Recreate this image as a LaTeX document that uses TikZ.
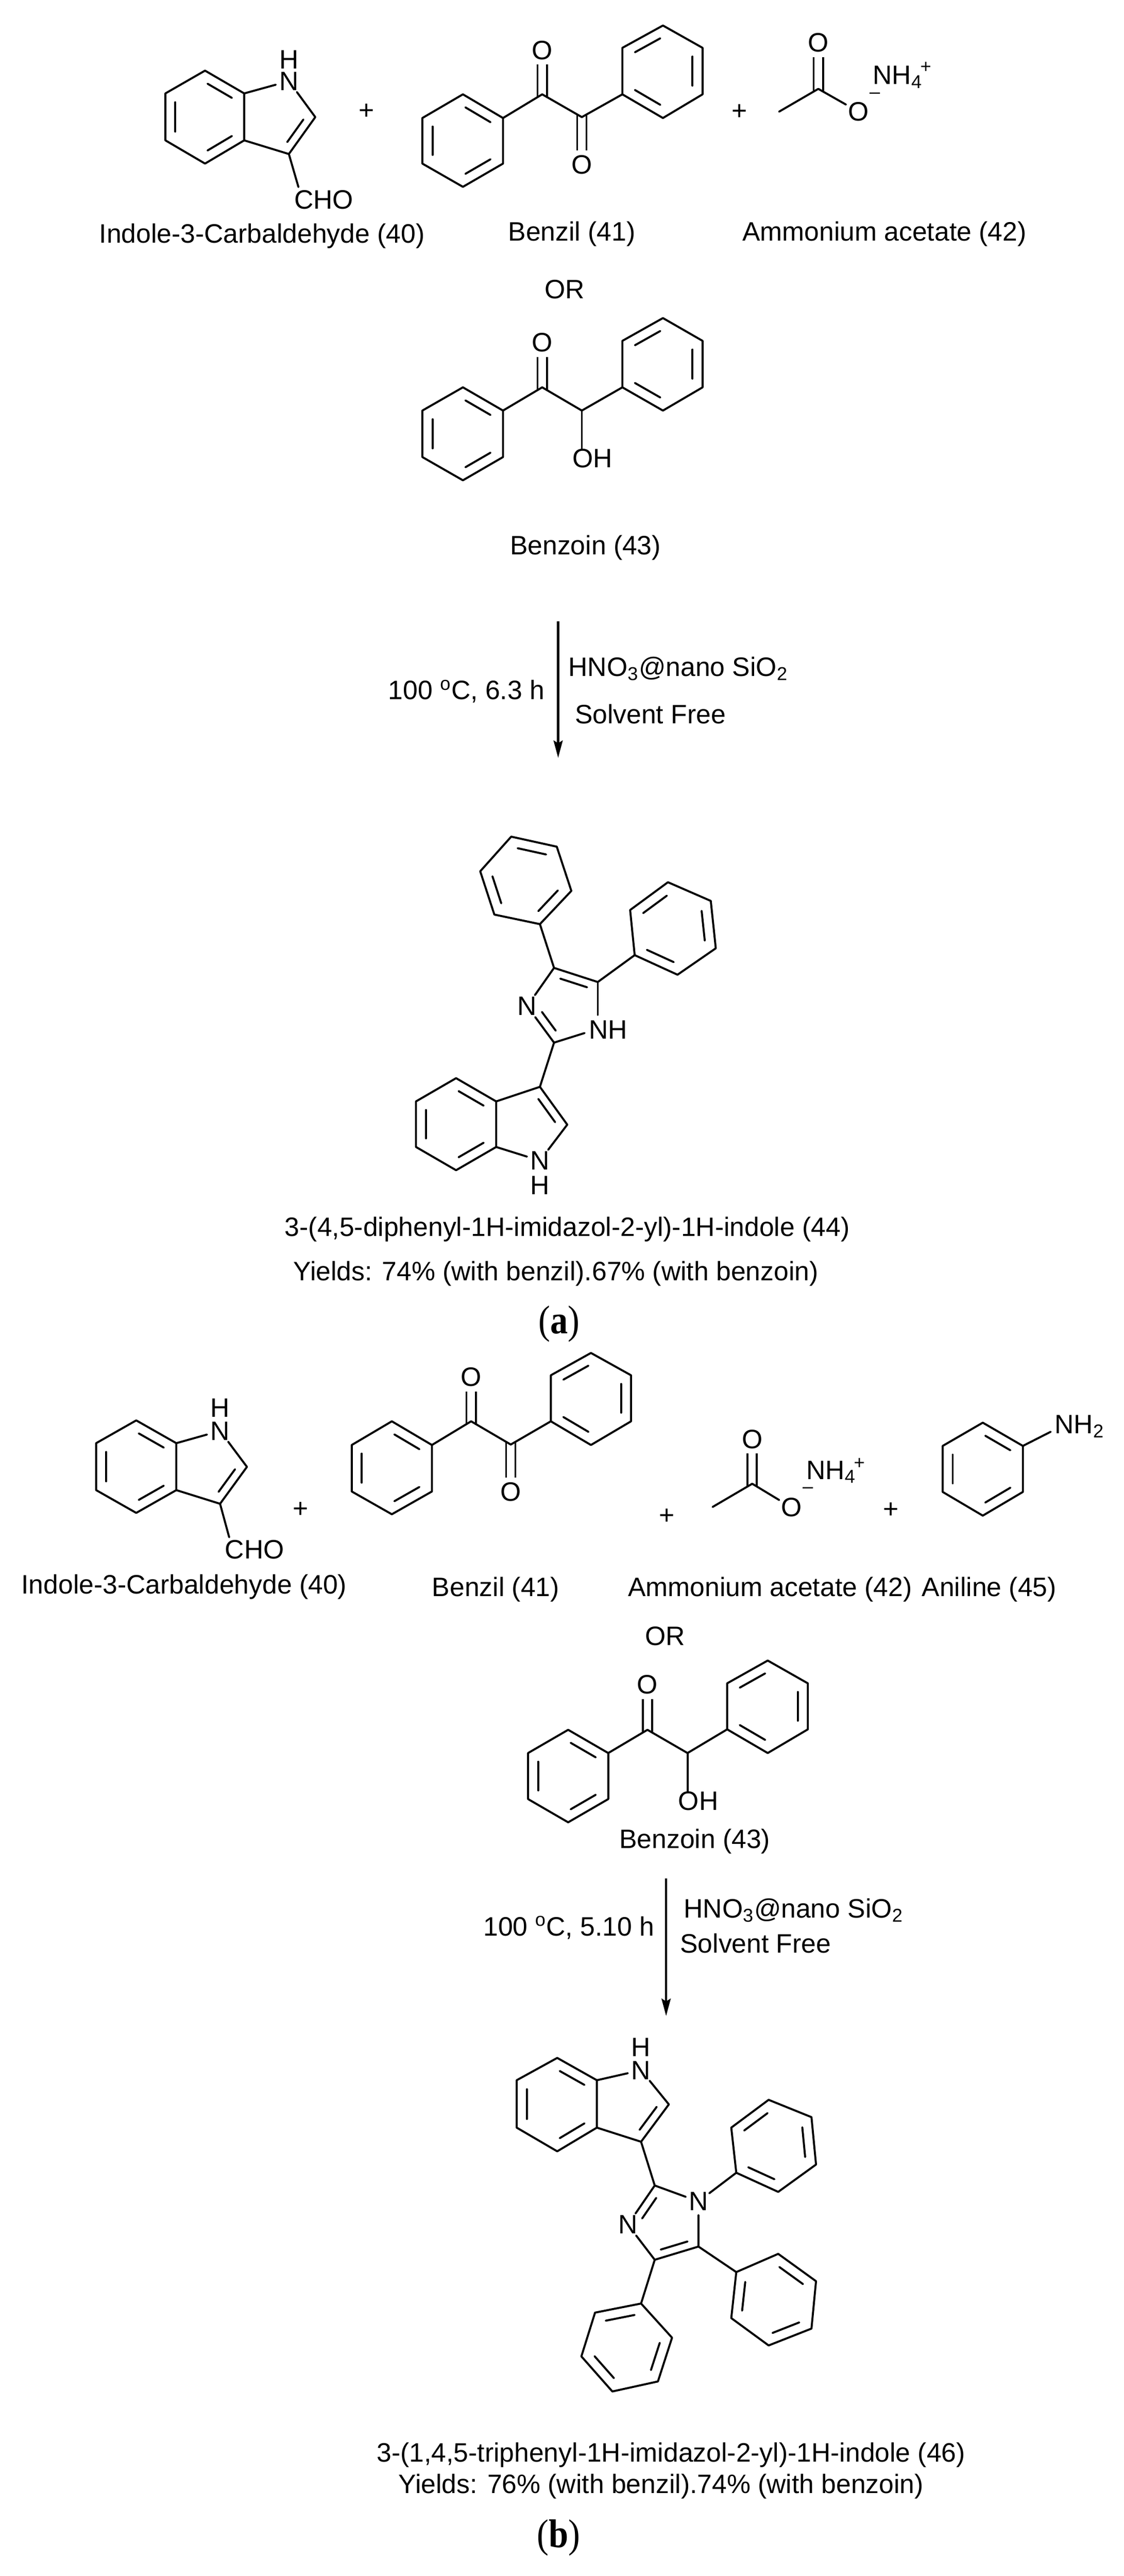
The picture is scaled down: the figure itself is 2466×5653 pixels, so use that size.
\documentclass[tikz,border=0pt]{standalone}
\usepackage{fontspec}
\usepackage{graphicx}
\setmainfont{Liberation Sans}
\newfontfamily\capfont{Liberation Serif}
\usetikzlibrary{calc,arrows.meta}
\tikzset{
  bond/.style={line width=1.1pt,line cap=round,line join=round},
  inb/.style={bond,shorten <=1.6pt,shorten >=1.6pt},
  cob/.style={line width=1.1pt,double,double distance=4pt},
  atom/.style={circle,inner sep=0pt,minimum size=14.5pt,font=\fontsize{14.6}{17}\selectfont},
  txt/.style={inner sep=0pt,font=\fontsize{14.6}{17}\selectfont},
  small/.style={inner sep=0pt,font=\fontsize{10.3}{12}\selectfont},
  rxn/.style={line width=1.2pt,-{Stealth[length=9.5pt,width=5pt,inset=1.5pt]}},
  panel/.style={inner sep=0pt,anchor=base,font=\capfont\fontsize{22}{26}\selectfont}
}
\newcommand\benz[7]{%
  \coordinate (#1a) at (#2);\coordinate (#1b) at (#3);\coordinate (#1c) at (#4);
  \coordinate (#1d) at (#5);\coordinate (#1e) at (#6);\coordinate (#1f) at (#7);
  \coordinate (#1o) at ($(#1a)!.5!(#1d)$);
  \draw[bond] (#1a)--(#1b)--(#1c)--(#1d)--(#1e)--(#1f)--cycle;
  \draw[inb] ($(#1o)!.75!(#1a)$)--($(#1o)!.75!(#1b)$);
  \draw[inb] ($(#1o)!.75!(#1c)$)--($(#1o)!.75!(#1d)$);
  \draw[inb] ($(#1o)!.75!(#1e)$)--($(#1o)!.75!(#1f)$);
}
\newcommand\dbin[4][]{\draw[inb,#1] ($(#4)!.74!(#2)$)--($(#4)!.74!(#3)$);}
\begin{document}
\begin{tikzpicture}[x=.25pt,y=-.25pt]
\useasboundingbox (0,0) rectangle (2466,5653);

% ---------- panel a: indole-3-carbaldehyde
\benz{ia}{450,155}{536,205}{536,308}{450,359}{363,308}{363,205}
\node[atom] (iaN) at (634,178) {N};
\node[txt] (iaH) at (634,131) {H};
\coordinate (iaC2) at (692,257);
\coordinate (iaC3) at (634,338);
\node[txt,anchor=base west] (iaCHO) at (645,458) {CHO};
\draw[bond] (iab)--(iaN)--(iaC2)--(iaC3)--(iac);
\dbin{iaC2}{iaC3}{606,257}
\draw[bond] (iaC3)--([shift={(2.5pt,1.5pt)}]iaCHO.north west);
\node[txt] (pa1) at (805,245) {+};

% benzil
\coordinate (bzC1) at (1190,207);
\coordinate (bzC2) at (1277,257);
\node[atom] (bzO1) at (1190,110) {O};
\node[atom] (bzO2) at (1277,361) {O};
\draw[cob] ([yshift=-1.6pt]bzC1)--(bzO1);
\draw[cob] ([yshift=1.6pt]bzC2)--(bzO2);
\benz{bl}{1016,207}{1104,259}{1104,359}{1016,410}{927,359}{927,259}
\benz{br}{1542,105}{1542,207}{1455,259}{1366,207}{1366,105}{1455,56}
\draw[bond] (blb)--(bzC1)--(bzC2)--(brd);
\node[txt] (pa2) at (1623,246) {+};

% ammonium acetate
\coordinate (acMe) at (1710,245);
\coordinate (acC) at (1796,195);
\node[atom] (acO1) at (1796,94) {O};
\node[atom] (acO2) at (1884,245) {O};
\draw[cob] ([yshift=-1.6pt]acC)--(acO1);
\draw[bond] (acMe)--(acC)--(acO2);
\node[small] (acM) at (1920,210) {–};
\node[txt,anchor=base west] (acN) at (1915,185) {NH\textsubscript{4}};
\node[small] (acP) at (2032,148) {+};

\node[txt,anchor=base] (la1) at (575,533) {Indole-3-Carbaldehyde (40)};
\node[txt,anchor=base] (la2) at (1255,528) {Benzil (41)};
\node[txt,anchor=base] (la3) at (1941,528) {Ammonium acetate (42)};
\node[txt,anchor=base] (la4) at (1239,655) {OR};

% benzoin
\coordinate (bnC1) at (1190,850);
\coordinate (bnC2) at (1277,901);
\node[atom] (bnO) at (1190,752) {O};
\draw[cob] ([yshift=-1.6pt]bnC1)--(bnO);
\benz{nl}{1016,850}{1104,901}{1104,1003}{1016,1054}{927,1003}{927,901}
\benz{nr}{1542,748}{1542,850}{1455,901}{1366,850}{1366,748}{1455,698}
\node[txt,anchor=base west] (bnOH) at (1256,1026) {OH};
\draw[bond] (nlb)--(bnC1)--(bnC2)--(nrd);
\draw[bond] (bnC2)--(bnC2|-bnOH.north);
\node[txt,anchor=base] (la5) at (1285,1217) {Benzoin (43)};

% arrow a
\coordinate (raS) at (1225,1363);
\coordinate (raE) at (1225,1663);
\draw[rxn] (raS)--(raE);
\node[txt,anchor=base west] (ca1) at (1247,1484) {HNO\textsubscript{3}@nano SiO\textsubscript{2}};
\node[txt,anchor=base west] (ca2) at (1261,1588) {Solvent Free};
\node[txt,anchor=base east] (ca3) at (1196,1535) {100 \textsuperscript{o}C, 6.3 h};

% product 44
\benz{pa}{1122,1836}{1222,1858}{1254,1955}{1185,2028}{1085,2007}{1054,1912}
\benz{pb}{1383,1997}{1466,1936}{1560,1977}{1571,2081}{1487,2139}{1393,2096}
\coordinate (imC4) at (1216,2124);
\coordinate (imC5) at (1312,2155);
\coordinate (imC2) at (1216,2288);
\node[atom] (imN3) at (1157,2208) {N};
\node[txt,anchor=base west] (imNH) at (1292,2280) {NH};
\draw[bond] (pad)--(imC4)--(imC5)--(pbf);
\draw[bond] (imC5)--(1312,2227);
\draw[bond] (imC2)--(1283,2267);
\draw[bond] (imC2)--(imN3)--(imC4);
\dbin{imC4}{imC5}{1245,2207}
\dbin[shorten <=4pt]{imN3}{imC2}{1245,2207}
\benz{pi}{1001,2366}{1089,2417}{1089,2517}{1001,2568}{913,2517}{913,2417}
\coordinate (piC3) at (1185,2385);
\coordinate (piC2) at (1245,2468);
\node[atom] (piN) at (1185,2547) {N};
\node[txt] (piH) at (1185,2601) {H};
\draw[bond] (imC2)--(piC3)--(piC2)--(piN)--(pic);
\draw[bond] (piC3)--(pib);
\dbin{piC3}{piC2}{1157,2467}
\node[txt,anchor=base] (la6) at (1245,2713) {3-(4,5-diphenyl-1H-imidazol-2-yl)-1H-indole (44)};
\node[txt,anchor=base] (la7) at (1220,2810) {Yields: 74\% (with benzil).67\% (with benzoin)};
\node[panel] (capa) at (1227,2927) {\scalebox{.88}[1]{(\textbf{a})}};

% ---------- panel b: indole-3-carbaldehyde
\benz{ib}{299,3117}{387,3167}{387,3270}{299,3320}{211,3270}{211,3167}
\node[atom] (ibN) at (483,3140) {N};
\node[txt] (ibH) at (483,3090) {H};
\coordinate (ibC2) at (542,3219);
\coordinate (ibC3) at (483,3300);
\node[txt,anchor=base west] (ibCHO) at (493,3421) {CHO};
\draw[bond] (ibb)--(ibN)--(ibC2)--(ibC3)--(ibc);
\dbin{ibC2}{ibC3}{456,3219}
\draw[bond] (ibC3)--([shift={(2.5pt,1.5pt)}]ibCHO.north west);
\node[txt] (pb1) at (660,3313) {+};

% benzil b
\coordinate (czC1) at (1034,3119);
\coordinate (czC2) at (1121,3170);
\node[atom] (czO1) at (1034,3022) {O};
\node[atom] (czO2) at (1121,3274) {O};
\draw[cob] ([yshift=-1.6pt]czC1)--(czO1);
\draw[cob] ([yshift=1.6pt]czC2)--(czO2);
\benz{cl}{860,3119}{948,3171}{948,3273}{860,3323}{772,3273}{772,3171}
\benz{cr}{1385,3018}{1385,3119}{1297,3171}{1209,3119}{1209,3018}{1297,2969}
\draw[bond] (clb)--(czC1)--(czC2)--(crd);
\node[txt] (pb2) at (1464,3328) {+};

% ammonium acetate b
\coordinate (adMe) at (1564,3307);
\coordinate (adC) at (1651,3256);
\node[atom] (adO1) at (1651,3158) {O};
\node[atom] (adO2) at (1737,3308) {O};
\draw[cob] ([yshift=-1.6pt]adC)--(adO1);
\draw[bond] (adMe)--(adC)--(adO2);
\node[small] (adM) at (1773,3270) {–};
\node[txt,anchor=base west] (adN) at (1769,3246) {NH\textsubscript{4}};
\node[small] (adP) at (1886,3212) {+};
\node[txt] (pb3) at (1956,3314) {+};

% aniline
\benz{an}{2157,3122}{2245,3173}{2245,3274}{2157,3326}{2069,3274}{2069,3173}
\node[txt,anchor=base west] (anN) at (2314,3146) {NH\textsubscript{2}};
\draw[bond] (anb)--([shift={(-2pt,1pt)}]anN.base west);

\node[txt,anchor=base] (lb1) at (404,3497) {Indole-3-Carbaldehyde (40)};
\node[txt,anchor=base] (lb2) at (1088,3503) {Benzil (41)};
\node[txt,anchor=base] (lb3) at (1690,3503) {Ammonium acetate (42)};
\node[txt,anchor=base] (lb4) at (2171,3503) {Aniline (45)};
\node[txt,anchor=base] (lb5) at (1460,3611) {OR};

% benzoin b
\coordinate (cnC1) at (1421,3796);
\coordinate (cnC2) at (1509,3847);
\node[atom] (cnO) at (1421,3697) {O};
\draw[cob] ([yshift=-1.6pt]cnC1)--(cnO);
\benz{ml}{1247,3796}{1335,3847}{1335,3948}{1247,3999}{1159,3948}{1159,3847}
\benz{mr}{1773,3694}{1773,3795}{1685,3847}{1596,3795}{1596,3694}{1685,3644}
\node[txt,anchor=base west] (cnOH) at (1488,3972) {OH};
\draw[bond] (mlb)--(cnC1)--(cnC2)--(mrd);
\draw[bond] (cnC2)--(cnC2|-cnOH.north);
\node[txt,anchor=base] (lb6) at (1525,4056) {Benzoin (43)};

% arrow b
\coordinate (rbS) at (1462,4122);
\coordinate (rbE) at (1462,4424);
\draw[rxn] (rbS)--(rbE);
\node[txt,anchor=base west] (cb1) at (1500,4209) {HNO\textsubscript{3}@nano SiO\textsubscript{2}};
\node[txt,anchor=base west] (cb2) at (1492,4286) {Solvent Free};
\node[txt,anchor=base east] (cb3) at (1437,4248) {100 \textsuperscript{o}C, 5.10 h};

% product 46
\benz{qi}{1223,4516}{1310,4565}{1310,4669}{1223,4721}{1134,4669}{1134,4565}
\node[atom] (qiN) at (1407,4543) {N};
\node[txt] (qiH) at (1407,4493) {H};
\coordinate (qiC2) at (1468,4618);
\coordinate (qiC3) at (1407,4700);
\draw[bond] (qib)--(qiN)--(qiC2)--(qiC3)--(qic);
\dbin{qiC2}{qiC3}{1380,4619}
\coordinate (jmC2) at (1437,4796);
\coordinate (jmC5) at (1533,4930);
\coordinate (jmC4) at (1437,4959);
\node[atom] (jmN1) at (1533,4831) {N};
\node[atom] (jmN3) at (1378,4882) {N};
\draw[bond] (qiC3)--(jmC2)--(jmN1)--(jmC5)--(jmC4)--(jmN3)--(jmC2);
\dbin{jmC5}{jmC4}{1464,4880}
\dbin[shorten <=4pt]{jmN3}{jmC2}{1464,4880}
\benz{qa}{1605,4669}{1687,4608}{1781,4646}{1791,4750}{1708,4810}{1616,4768}
\benz{qb}{1708,4946}{1791,5006}{1781,5110}{1687,5147}{1605,5087}{1616,4986}
\benz{qc}{1306,5075}{1407,5055}{1475,5130}{1444,5226}{1344,5248}{1276,5171}
\draw[bond] (jmN1)--(qaf);
\draw[bond] (jmC5)--(qbf);
\draw[bond] (jmC4)--(qcb);
\node[txt,anchor=base] (lb7) at (1473,5402) {3-(1,4,5-triphenyl-1H-imidazol-2-yl)-1H-indole (46)};
\node[txt,anchor=base] (lb8) at (1451,5471) {Yields: 76\% (with benzil).74\% (with benzoin)};
\node[panel] (capb) at (1226,5590) {\scalebox{.88}[1]{(\textbf{b})}};
\end{tikzpicture}
\end{document}
